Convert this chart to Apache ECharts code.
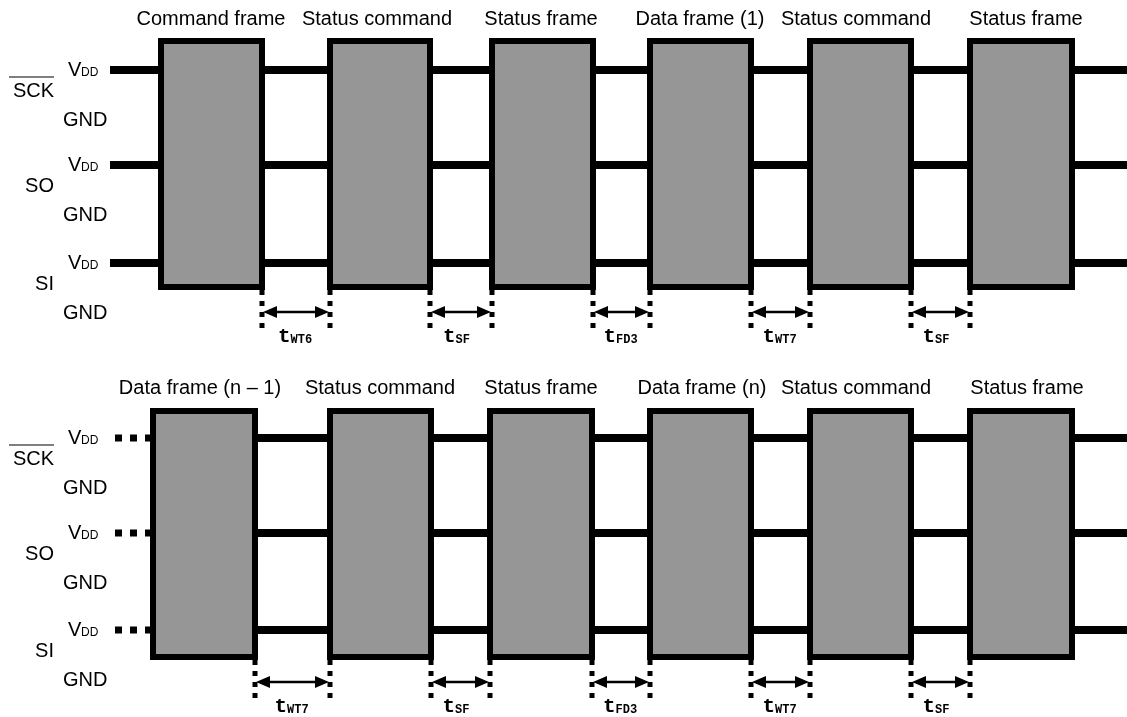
<!DOCTYPE html>
<html>
<head>
<meta charset="utf-8">
<script src="https://cdn.jsdelivr.net/npm/echarts@6/dist/echarts.min.js"></script>
<style>
  html, body { margin: 0; padding: 0; background: #fff; }
  #timing { width: 1127px; height: 717px; }
</style>
</head>
<body>
<div id="timing"></div>
<script>
// ---- diagram data (pixel units of the 1127x717 drawing) ----
const frameNamesTop = ["Command frame", "Status command", "Status frame", "Data frame (1)", "Status command", "Status frame"];
const frameNamesBottom = ["Data frame (n \u2013 1)", "Status command", "Status frame", "Data frame (n)", "Status command", "Status frame"];
const frameNameXTop = [211, 377, 541, 700, 856, 1026];
const frameNameXBottom = [200, 380, 541, 702, 856, 1027];
// box edges (outer)
const frameLeftTop = [158, 327, 489, 647, 807, 967];
const frameRightTop = [265, 433, 596, 754, 914, 1075];
const frameLeftBottom = [150, 327, 487, 647, 807, 967];
const frameRightBottom = [258, 434, 595, 754, 914, 1075];
const panelTop = [38, 408];
const panelBottom = [290, 660];
const titleY = [19, 388];

const signalNames = ["SCK", "SO", "SI"];
const signalLevelsTop = [70, 165, 263];
const signalLevelsBottom = [438, 533, 630];

const timingTop = ["WT6", "SF", "FD3", "WT7", "SF"];
const timingBottom = ["WT7", "SF", "FD3", "WT7", "SF"];

// ---- build drawing lists ----
const panels = [
  { names: frameNamesTop, nameX: frameNameXTop, left: frameLeftTop, right: frameRightTop, levels: signalLevelsTop, timing: timingTop, dotted: false },
  { names: frameNamesBottom, nameX: frameNameXBottom, left: frameLeftBottom, right: frameRightBottom, levels: signalLevelsBottom, timing: timingBottom, dotted: true }
];

const lineData = [];   // [x0, x1, y, dotted]
const boxData = [];    // [x0, x1, y0, y1]
const markData = [];   // [x0, x1, y0]
const markText = [];
const labels = [];     // {x, y, kind, text}

panels.forEach((p, pi) => {
  p.levels.forEach((lv, si) => {
    if (p.dotted) {
      lineData.push([115, p.left[0], lv, 1]);
      lineData.push([p.left[0], 1127, lv, 0]);
    } else {
      lineData.push([110, 1127, lv, 0]);
    }
    labels.push({ x: 54, y: lv + 21, kind: "sig", text: signalNames[si], over: si === 0 });
    labels.push({ x: 68, y: lv, kind: "vdd" });
    labels.push({ x: 63, y: lv + 50, kind: "gnd" });
  });
  p.left.forEach((l, i) => {
    boxData.push([l, p.right[i], panelTop[pi], panelBottom[pi]]);
    labels.push({ x: p.nameX[i], y: titleY[pi], kind: "title", text: p.names[i] });
  });
  p.timing.forEach((t, i) => {
    markData.push([p.right[i] - 3, p.left[i + 1] + 3, panelBottom[pi]]);
    markText.push(t);
  });
});

const chart = echarts.init(document.getElementById("timing"));

const option = {
  animation: false,
  backgroundColor: "#fff",
  grid: { left: 0, right: 0, top: 0, bottom: 0 },
  xAxis: { type: "value", min: 0, max: 1127, show: false },
  yAxis: { type: "value", min: 0, max: 717, inverse: true, show: false },
  series: [
    {
      // signal levels
      type: "custom",
      z: 1,
      data: lineData,
      renderItem: (params, api) => {
        const a = api.coord([api.value(0), api.value(2)]);
        const b = api.coord([api.value(1), api.value(2)]);
        const dotted = api.value(3) === 1;
        return {
          type: "line",
          shape: { x1: a[0], y1: a[1], x2: b[0], y2: b[1] },
          style: { stroke: "#000", lineWidth: dotted ? 7 : 8, lineDash: dotted ? [7, 8] : null }
        };
      }
    },
    {
      // frames
      type: "custom",
      z: 2,
      data: boxData,
      renderItem: (params, api) => {
        const a = api.coord([api.value(0), api.value(2)]);
        const b = api.coord([api.value(1), api.value(3)]);
        return {
          type: "rect",
          shape: { x: a[0] + 3, y: a[1] + 3, width: b[0] - a[0] - 6, height: b[1] - a[1] - 6 },
          style: { fill: "#969696", stroke: "#000", lineWidth: 6 }
        };
      }
    },
    {
      // timing markers
      type: "custom",
      z: 3,
      data: markData,
      renderItem: (params, api) => {
        const a = api.coord([api.value(0), api.value(2)]);
        const b = api.coord([api.value(1), api.value(2)]);
        const x0 = a[0], x1 = b[0], y0 = a[1];
        const ay = y0 + 22;
        const sub = markText[params.dataIndex];
        const cx = (x0 + x1) / 2;
        const dash = { stroke: "#000", lineWidth: 5, lineDash: [5, 6] };
        return {
          type: "group",
          children: [
            { type: "line", shape: { x1: x0, y1: y0, x2: x0, y2: y0 + 42 }, style: dash },
            { type: "line", shape: { x1: x1, y1: y0, x2: x1, y2: y0 + 42 }, style: dash },
            { type: "line", shape: { x1: x0 + 6, y1: ay, x2: x1 - 6, y2: ay }, style: { stroke: "#000", lineWidth: 2.5 } },
            { type: "polygon", shape: { points: [[x0 + 1, ay], [x0 + 15, ay - 6], [x0 + 15, ay + 6]] }, style: { fill: "#000" } },
            { type: "polygon", shape: { points: [[x1 - 1, ay], [x1 - 15, ay - 6], [x1 - 15, ay + 6]] }, style: { fill: "#000" } },
            {
              type: "text",
              x: cx - 18, y: y0 + 47,
              style: {
                text: "{t|t}{s|" + sub + "}",
                rich: {
                  t: { fontFamily: "Liberation Mono", fontWeight: "bold", fontSize: 21, verticalAlign: "bottom", fill: "#000" },
                  s: { fontFamily: "Liberation Mono", fontWeight: "bold", fontSize: 12, verticalAlign: "bottom", padding: [0, 0, 2, 0], fill: "#000" }
                },
                align: "left", verticalAlign: "middle"
              }
            }
          ]
        };
      }
    },
    {
      // labels
      type: "custom",
      z: 4,
      data: labels.map((l) => [l.x, l.y]),
      renderItem: (params, api) => {
        const l = labels[params.dataIndex];
        const p = api.coord([api.value(0), api.value(1)]);
        const base = { fontFamily: "Liberation Sans", fontSize: 20, fill: "#000" };
        if (l.kind === "title") {
          return { type: "text", x: p[0], y: p[1], style: Object.assign({}, base, { text: l.text, align: "center", verticalAlign: "middle" }) };
        }
        if (l.kind === "gnd") {
          return { type: "text", x: p[0], y: p[1], style: Object.assign({}, base, { text: "GND", align: "left", verticalAlign: "middle" }) };
        }
        if (l.kind === "vdd") {
          return {
            type: "group",
            children: [
              { type: "text", x: p[0], y: p[1], style: Object.assign({}, base, { text: "V", align: "left", verticalAlign: "middle" }) },
              { type: "text", x: p[0] + 13, y: p[1] + 3, style: Object.assign({}, base, { text: "DD", fontSize: 12, align: "left", verticalAlign: "middle" }) }
            ]
          };
        }
        const children = [
          { type: "text", x: p[0], y: p[1], style: Object.assign({}, base, { text: l.text, align: "right", verticalAlign: "middle" }) }
        ];
        if (l.over) {
          children.push({ type: "line", shape: { x1: p[0] - 45, y1: p[1] - 14, x2: p[0], y2: p[1] - 14 }, style: { stroke: "#000", lineWidth: 1.2 } });
        }
        return { type: "group", children: children };
      }
    }
  ]
};

chart.setOption(option);
</script>
</body>
</html>
